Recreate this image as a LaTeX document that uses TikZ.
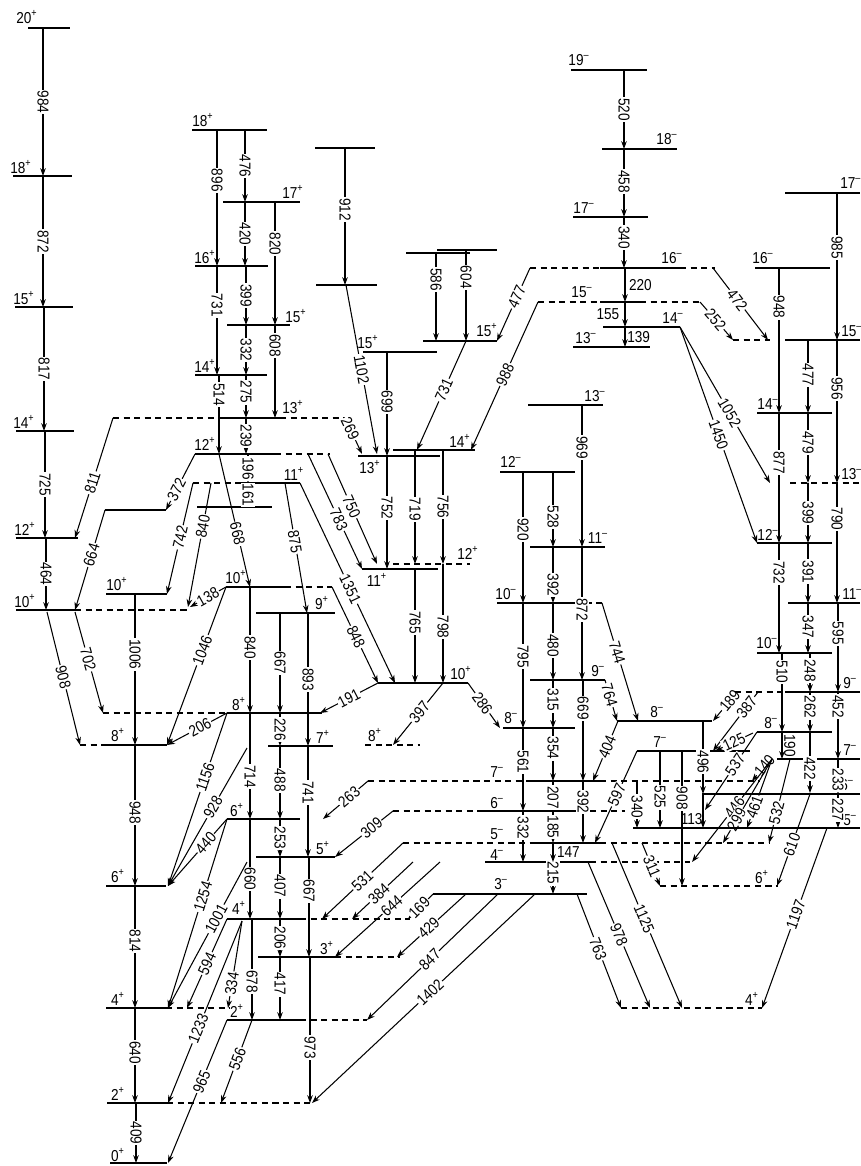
\documentclass[tikz,border=0pt]{standalone}
\usepackage{fontspec}
\setmainfont{Liberation Sans}[FakeStretch=0.86]
\usepackage{tikz}
\usetikzlibrary{arrows.meta}
\tikzset{>=latex}
\tikzset{
	lev/.style={line width=1.1pt},
	dlev/.style={line width=1.1pt,dash pattern=on 3.5pt off 2.5pt},
	gam/.style={line width=0.6pt,-{Stealth[length=4.5pt,width=3.2pt]}},
	lab/.style={fill=white,inner sep=0.6pt,font=\fontsize{9}{9}\selectfont},
	spin/.style={inner sep=0pt,font=\fontsize{9}{9}\selectfont}
}
% levels: x1, x2, y
\newcommand{\lev}[3]{\draw[lev] (#1,#3) -- (#2,#3);}
\newcommand{\dlev}[3]{\draw[dlev] (#1,#3) -- (#2,#3);}
% gamma lines: [pos] x, y1, y2, energy  /  [pos] x1, y1, x2, y2, energy
\newcommand{\vg}[5][0.5]{\draw[gam] (#2,#3) -- node[lab,rotate=-90,pos=#1] {#5} (#2,#4);}
\newcommand{\dg}[6][0.5]{\draw[gam] (#2,#3) -- node[lab,sloped,pos=#1] {#6} (#4,#5);}
\newcommand{\lbl}[3]{\node[spin] at (#1,#2) {#3};}
\newcommand{\rlbl}[3]{\node[spin,anchor=west] at (#1,#2) {#3};}
\newcommand{\Jp}[1]{#1\textsuperscript{+}}
\newcommand{\Jm}[1]{#1\textsuperscript{\textendash}}

\begin{document}
\begin{tikzpicture}[x=0.02cm,y=-0.02cm]
	\useasboundingbox (0,0) rectangle (860,1166);
	% left band
	\lev{28}{70}{28} \lev{13}{72}{176} \lev{15}{73}{307} \lev{16}{74}{431}
	\lev{16}{78}{538} \lev{16}{75}{610} \dlev{75}{190}{610}
	\lev{105}{166}{510} \lev{106}{167}{594}
	\dlev{80}{107}{745} \lev{107}{167}{745}
	\dlev{103}{227}{713} \lev{227}{322}{713}
	\lev{106}{166}{886}
	\lev{106}{166}{1008} \dlev{166}{230}{1008}
	\lev{107}{167}{1103} \dlev{167}{312}{1103}
	\lev{110}{167}{1163}
	\lbl{27}{17}{\Jp{20}} \lbl{21}{167}{\Jp{18}} \lbl{24}{298}{\Jp{15}} \lbl{24}{422}{\Jp{14}}
	\lbl{25}{529}{\Jp{12}} \lbl{25}{601}{\Jp{10}} \lbl{117}{584}{\Jp{10}} \lbl{118}{735}{\Jp{8}}
	\lbl{239}{704}{\Jp{8}} \lbl{118}{876}{\Jp{6}} \lbl{118}{999}{\Jp{4}} \lbl{118}{1094}{\Jp{2}}
	\lbl{118}{1155}{\Jp{0}}
	\vg{43}{28}{176}{984} \vg{43}{176}{307}{872} \vg{44}{307}{431}{817}
	\vg{45}{431}{538}{725} \vg{46}{538}{610}{464}
	\vg[0.4]{135}{594}{745}{1006} \vg[0.48]{135}{745}{886}{948} \vg[0.45]{135}{886}{1008}{814}
	\vg[0.47]{135}{1008}{1103}{640} \vg{136}{1103}{1163}{409}
	\dg[0.54]{113}{418}{75}{538}{811} \dg[0.64]{195}{454}{166}{510}{372}
	\dg[0.45]{105}{510}{75}{610}{664} \dg[0.49]{193}{483}{167}{594}{742}
	\dg[0.49]{47}{612}{80}{745}{908} \dg[0.47]{75}{612}{103}{713}{702}
	% second band
	\lev{192}{267}{130} \lev{223}{300}{202} \lev{195}{268}{266} \lev{227}{290}{325}
	\lev{195}{267}{375}
	\dlev{113}{225}{418} \lev{225}{280}{418} \dlev{280}{345}{418}
	\lev{195}{275}{454} \dlev{275}{330}{454}
	\dlev{193}{237}{483} \lev{237}{300}{483}
	\lev{197}{272}{507}
	\lev{226}{285}{587} \dlev{285}{332}{587}
	\lev{256}{335}{613} \lev{268}{333}{746} \lev{227}{300}{819} \lev{256}{335}{857}
	\lev{227}{300}{919} \dlev{300}{410}{919}
	\lev{258}{335}{957} \dlev{335}{400}{957}
	\lev{227}{300}{1020} \dlev{300}{367}{1020}
	\lbl{203}{120}{\Jp{18}} \lbl{293}{192}{\Jp{17}} \lbl{205}{257}{\Jp{16}} \lbl{296}{316}{\Jp{15}}
	\lbl{205}{366}{\Jp{14}} \lbl{293}{407}{\Jp{13}} \lbl{205}{444}{\Jp{12}} \lbl{294}{474}{\Jp{11}}
	\lbl{236}{577}{\Jp{10}} \lbl{322}{603}{\Jp{9}} \lbl{323}{737}{\Jp{7}} \lbl{237}{810}{\Jp{6}}
	\lbl{323}{848}{\Jp{5}} \lbl{239}{908}{\Jp{4}} \lbl{327}{948}{\Jp{3}} \lbl{237}{1011}{\Jp{2}}
	\vg[0.37]{217}{130}{266}{896} \vg{245}{130}{202}{476} \vg{245}{202}{266}{420}
	\vg[0.34]{275}{202}{325}{820} \vg[0.36]{217}{266}{375}{731} \vg{246}{266}{325}{399}
	\vg{246}{325}{375}{332} \vg[0.22]{275}{325}{418}{608} \vg[0.25]{219}{375}{454}{514}
	\vg[0.4]{246}{375}{418}{275} \vg{246}{418}{454}{239} \vg{248}{454}{483}{196}
	\vg{248}{483}{507}{161}
	\dg[0.35]{211}{483}{188}{607}{840} \dg[0.6]{219}{454}{250}{587}{668}
	\dg{226}{587}{190}{607}{138} \dg[0.4]{226}{587}{167}{745}{1046}
	\dg[0.45]{227}{713}{167}{745}{206} \dg[0.45]{285}{483}{307}{613}{875}
	\vg[0.48]{250}{587}{713}{840} \vg{280}{613}{713}{667} \vg{308}{613}{746}{893}
	\vg{280}{713}{746}{226} \vg[0.6]{250}{713}{819}{714} \vg[0.47]{280}{746}{819}{488}
	\vg[0.42]{308}{746}{857}{741} \vg{280}{819}{857}{253} \vg[0.6]{250}{819}{919}{660}
	\vg[0.47]{280}{857}{919}{407} \vg[0.34]{309}{857}{957}{667} \vg{280}{919}{957}{206}
	\vg[0.62]{252}{919}{1020}{678} \vg[0.43]{280}{957}{1020}{417} \vg[0.62]{310}{957}{1103}{973}
	\dg[0.37]{227}{713}{168}{886}{1156} \dg[0.43]{247}{748}{168}{886}{928}
	\dg[0.36]{227}{819}{168}{886}{440} \dg[0.41]{227}{819}{168}{1008}{1254}
	\dg[0.39]{247}{862}{168}{1008}{1001} \dg{227}{919}{187}{1008}{594}
	\dg[0.72]{242}{921}{228}{1008}{334} \dg[0.59]{242}{921}{168}{1103}{1233}
	\dg[0.43]{227}{1020}{168}{1163}{965} \dg[0.47]{252}{1020}{221}{1103}{556}
	% third band
	\lev{315}{375}{148} \lev{316}{377}{285} \lev{363}{437}{352}
	\lev{406}{470}{253} \lev{437}{497}{250} \lev{423}{497}{341}
	\lev{358}{440}{456} \lev{393}{475}{450}
	\dlev{393}{470}{564} \lev{362}{438}{569} \lev{378}{468}{683} \dlev{365}{420}{745}
	\lbl{368}{342}{\Jp{15}} \lbl{487}{330}{\Jp{15}} \lbl{370}{467}{\Jp{13}} \lbl{460}{441}{\Jp{14}}
	\lbl{468}{553}{\Jp{12}} \lbl{377}{580}{\Jp{11}} \lbl{461}{673}{\Jp{10}} \lbl{375}{735}{\Jp{8}}
	\vg[0.45]{345}{148}{285}{912} \vg[0.48]{387}{352}{456}{699}
	\vg[0.3]{436}{253}{341}{586} \vg[0.3]{466}{250}{341}{604}
	\vg[0.46]{387}{456}{569}{752} \vg[0.52]{415}{450}{564}{719} \vg{443}{450}{564}{756}
	\vg[0.47]{415}{569}{683}{765} \vg[0.53]{443}{564}{683}{798}
	\dg[0.3]{345}{418}{362}{454}{269} \dg{346}{285}{377}{454}{1102}
	\dg[0.45]{466}{341}{417}{450}{731} \dg[0.4]{530}{268}{497}{341}{477}
	\dg[0.49]{538}{302}{471}{450}{988} \dg[0.57]{308}{454}{362}{569}{783}
	\dg[0.48]{328}{454}{377}{564}{750} \dg[0.53]{300}{483}{395}{683}{1351}
	\dg[0.52]{332}{587}{378}{683}{848} \dg{378}{683}{320}{713}{191}
	\dg[0.47]{443}{683}{393}{745}{397} \dg[0.45]{468}{683}{500}{728}{286}
	% negative parity band
	\lev{571}{647}{70} \lev{602}{677}{149} \lev{573}{648}{217}
	\dlev{530}{600}{268} \lev{600}{680}{268} \dlev{680}{715}{268}
	\dlev{538}{600}{302} \lev{600}{640}{302} \dlev{640}{700}{302}
	\lev{603}{680}{327} \lev{573}{650}{347} \lev{528}{603}{405}
	\lev{500}{575}{472} \lev{530}{605}{547}
	\lev{497}{575}{603} \dlev{575}{602}{603}
	\lev{530}{605}{680} \lev{503}{575}{728}
	\dlev{368}{530}{781} \lev{530}{600}{781} \dlev{600}{760}{781}
	\dlev{393}{483}{811} \lev{483}{590}{811} \dlev{590}{625}{811}
	\dlev{403}{530}{843} \lev{530}{600}{843} \dlev{600}{770}{843}
	\lev{485}{590}{862} \dlev{590}{690}{862}
	\lev{433}{587}{894}
	\lev{617}{712}{721} \lev{637}{750}{751}
	\dlev{660}{778}{886} \dlev{621}{762}{1008}
	\lbl{579}{60}{\Jm{19}} \lbl{667}{139}{\Jm{18}} \lbl{584}{208}{\Jm{17}} \lbl{672}{258}{\Jm{16}}
	\lbl{582}{292}{\Jm{15}} \lbl{673}{318}{\Jm{14}} \lbl{586}{338}{\Jm{13}} \lbl{595}{396}{\Jm{13}}
	\lbl{511}{462}{\Jm{12}} \lbl{598}{538}{\Jm{11}} \lbl{506}{594}{\Jm{10}} \lbl{598}{671}{\Jm{9}}
	\lbl{511}{718}{\Jm{8}} \lbl{497}{772}{\Jm{7}} \lbl{497}{803}{\Jm{6}} \lbl{497}{834}{\Jm{5}}
	\lbl{497}{855}{\Jm{4}} \lbl{501}{884}{\Jm{3}} \lbl{657}{712}{\Jm{8}} \lbl{660}{742}{\Jm{7}}
	\lbl{762}{877}{\Jp{6}} \lbl{752}{999}{\Jp{4}}
	\vg{624}{70}{149}{520} \vg[0.48]{624}{149}{217}{458} \vg[0.4]{624}{217}{268}{340}
	\draw[gam] (625,268) -- (625,302) node[spin,midway,right=2pt] {220};
	\draw[gam] (625,302) -- (625,327) node[spin,midway,left=3pt] {155};
	\draw[gam] (625,327) -- (625,347) node[spin,midway,right=1pt] {139};
	\vg[0.3]{582}{405}{547}{969} \vg[0.47]{582}{547}{680}{872} \vg[0.28]{583}{680}{781}{669}
	\vg[0.34]{583}{781}{843}{392}
	\vg[0.44]{523}{472}{603}{920} \vg[0.43]{523}{603}{728}{795} \vg[0.41]{523}{728}{811}{561}
	\vg[0.33]{523}{811}{862}{332}
	\vg[0.6]{553}{472}{547}{528} \vg[0.68]{553}{547}{603}{392} \vg[0.55]{553}{603}{680}{480}
	\vg[0.42]{553}{680}{728}{315} \vg[0.38]{553}{728}{781}{354} \vg[0.55]{553}{781}{811}{207}
	\vg{553}{811}{843}{185} \vg[0.35]{553}{862}{894}{215}
	\draw[gam] (553,843) -- (553,862) node[spin,midway,right=2pt] {147};
	\vg[0.56]{703}{721}{794}{496} \vg[0.6]{660}{751}{828}{525} \vg[0.55]{637}{781}{828}{340}
	\vg[0.35]{682}{751}{886}{908}
	\draw[gam] (703,794) -- (703,828) node[spin,pos=0.75,left=0pt] {113};
	\dg[0.44]{713}{268}{768}{340}{472} \dg[0.47]{700}{302}{733}{340}{252}
	\dg[0.55]{680}{327}{770}{483}{1052} \dg{680}{327}{757}{543}{1450}
	\dg[0.37]{605}{680}{617}{721}{764} \dg[0.42]{602}{603}{638}{721}{744}
	\dg[0.43]{618}{721}{593}{781}{404} \dg[0.48]{637}{751}{595}{843}{597}
	\dg[0.3]{737}{692}{713}{721}{189} \dg[0.25]{758}{692}{713}{751}{387}
	\dg{753}{733}{715}{751}{125} \dg[0.42]{757}{732}{705}{810}{537}
	\dg[0.3]{770}{759}{752}{781}{140} \dg[0.47]{772}{759}{692}{862}{446}
	\dg[0.72]{772}{759}{723}{843}{299} \dg[0.7]{772}{759}{747}{828}{461}
	\dg[0.64]{790}{759}{769}{843}{532} \dg[0.55]{810}{794}{777}{886}{610}
	\dg[0.55]{642}{843}{660}{886}{311}
	\dg[0.5]{403}{843}{322}{919}{531} \dg[0.56]{413}{862}{352}{919}{384}
	\dg[0.46]{440}{862}{335}{957}{644} \dg[0.55]{433}{894}{408}{919}{169}
	\dg[0.54]{466}{894}{397}{957}{429} \dg[0.52]{498}{894}{367}{1020}{847}
	\dg[0.47]{535}{894}{312}{1103}{1402} \dg[0.42]{368}{781}{323}{819}{263}
	\dg[0.37]{393}{811}{335}{857}{309}
	\dg[0.48]{577}{894}{621}{1008}{763} \dg[0.5]{588}{862}{650}{1008}{978}
	\dg[0.46]{612}{843}{682}{1008}{1125} \dg[0.48]{827}{828}{762}{1008}{1197}
	% right band
	\lev{785}{860}{193} \lev{755}{830}{268}
	\dlev{733}{770}{340} \lev{785}{860}{340}
	\lev{757}{832}{413} \dlev{790}{860}{483} \lev{757}{832}{543}
	\lev{788}{860}{603} \lev{757}{832}{653}
	\dlev{735}{785}{692} \lev{785}{860}{692}
	\lev{757}{832}{732} \lev{777}{860}{759} \lev{702}{860}{794} \lev{633}{860}{828}
	\rlbl{840}{183}{\Jm{17}} \lbl{763}{258}{\Jm{16}} \rlbl{841}{331}{\Jm{15}} \lbl{768}{404}{\Jm{14}}
	\rlbl{841}{474}{\Jm{13}} \lbl{768}{535}{\Jm{12}} \rlbl{842}{594}{\Jm{11}} \lbl{767}{643}{\Jm{10}}
	\rlbl{843}{683}{\Jm{9}} \lbl{771}{723}{\Jm{8}} \rlbl{843}{750}{\Jm{7}} \rlbl{840}{785}{\Jm{6}}
	\rlbl{843}{820}{\Jm{5}}
	\vg[0.37]{837}{193}{340}{985} \vg[0.27]{779}{268}{413}{948} \vg[0.48]{808}{340}{413}{477}
	\vg[0.34]{837}{340}{483}{956} \vg[0.38]{779}{413}{543}{877} \vg[0.42]{808}{413}{483}{479}
	\vg{808}{483}{543}{399} \vg[0.3]{837}{483}{603}{790} \vg[0.27]{779}{543}{653}{732}
	\vg[0.48]{808}{543}{603}{391} \vg[0.48]{808}{603}{653}{347} \vg[0.34]{838}{603}{692}{595}
	\vg[0.24]{782}{653}{732}{510} \vg[0.45]{810}{653}{692}{248} \vg[0.38]{810}{692}{732}{262}
	\vg[0.22]{838}{692}{759}{452} \vg[0.6]{810}{732}{793}{422} \vg[0.6]{838}{759}{794}{233}
	\vg[0.47]{838}{794}{828}{227}
	\draw[gam] (782,732) -- (782,759) node[spin,midway,right=1pt,rotate=-90,anchor=south] {190};
\end{tikzpicture}
\end{document}
